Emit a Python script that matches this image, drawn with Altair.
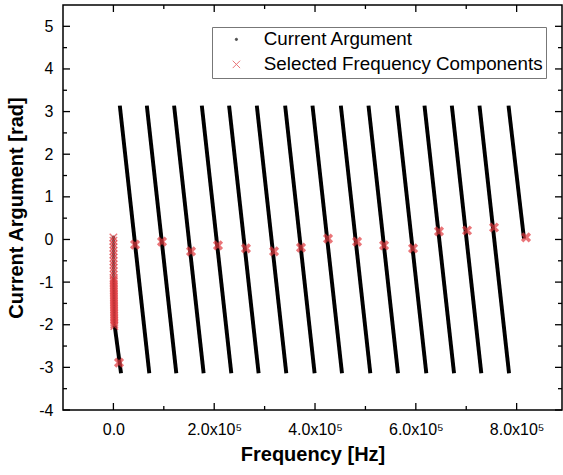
import altair as alt
import pandas as pd

# ---- data ----
series_names = ["Current Argument", "Selected Frequency Components"]

# wrapped phase line segments (Hz, rad)
seg_start_hz = [2500, 12700, 66300, 120400, 175400, 229500, 284500, 340700, 395000,
                451200, 506100, 562300, 617200, 671400, 726300, 783900]
seg_start_rad = [-2.02, 3.14, 3.14, 3.14, 3.14, 3.14, 3.14, 3.14, 3.14,
                 3.14, 3.14, 3.14, 3.14, 3.14, 3.14, 3.14]
seg_end_hz = [15100, 71200, 124800, 179000, 233900, 288100, 343000, 399200, 453500,
              509700, 564600, 620800, 675800, 729900, 784900, 814600]
seg_end_rad = [-3.14, -3.14, -3.14, -3.14, -3.14, -3.14, -3.14, -3.14, -3.14,
               -3.14, -3.14, -3.14, -3.14, -3.14, -3.14, 0.02]

# low-frequency cluster (both series)
cluster_hz = [0, 40, 90, 130, 180, 220, 270, 310, 360, 400, 450, 500, 540,
              590, 630, 680, 720, 770, 810, 860, 900, 950, 990, 1040, 1080, 1130,
              1170, 1220, 1260, 1310, 1350, 1400, 1440, 1490, 1530, 1580, 1620,
              1670, 1710, 1760, 1800]
cluster_rad = [0.05, -0.03, -0.11, -0.19, -0.27, -0.35, -0.43, -0.51, -0.59, -0.67,
               -0.75, -0.83, -0.91, -0.95, -0.99, -1.03, -1.07, -1.11, -1.15, -1.19,
               -1.23, -1.27, -1.31, -1.35, -1.39, -1.43, -1.47, -1.51, -1.55, -1.59,
               -1.63, -1.67, -1.71, -1.75, -1.79, -1.83, -1.87, -1.91, -1.95, -1.99, -2.03]

# selected frequency components on the lines
sel_hz = [11100, 42900, 96400, 154000, 207500, 263000, 318700, 372200, 425800,
          483400, 537000, 594500, 646000, 701600, 755100, 818600]
sel_rad = [-2.89, -0.12, -0.05, -0.28, -0.14, -0.21, -0.28, -0.19, 0.02,
           -0.05, -0.14, -0.21, 0.19, 0.21, 0.28, 0.05]

x_major = [0, 200000, 400000, 600000, 800000]
x_minor = [100000, 300000, 500000, 700000]
y_major = [-4, -3, -2, -1, 0, 1, 2, 3, 4, 5]
y_minor = [-3.5, -2.5, -1.5, -0.5, 0.5, 1.5, 2.5, 3.5, 4.5]

# ---- layout / style ----
W, H = 499, 405
RED = "#e23b40"
XPATH = "M-1,-1L1,1M-1,1L1,-1"
FONT = "Liberation Sans"

seg_df = pd.DataFrame({"x": seg_start_hz, "y": seg_start_rad,
                       "x2": seg_end_hz, "y2": seg_end_rad})
cl_df = pd.concat([
    pd.DataFrame({"hz": cluster_hz, "rad": cluster_rad, "series": series_names[0]}),
    pd.DataFrame({"hz": cluster_hz, "rad": cluster_rad, "series": series_names[1]}),
], ignore_index=True)
sel_df = pd.DataFrame({"hz": sel_hz, "rad": sel_rad})

x_scale = alt.Scale(domain=[-100000, 890000], nice=False, zero=False)
y_scale = alt.Scale(domain=[-4, 5.5], nice=False, zero=False)
axis_style = dict(ticks=False, domain=False, grid=False,
                  labelFont=FONT, labelFontSize=16, labelColor="black",
                  titleFont=FONT, titleFontSize=20, titleFontWeight="bold", titleColor="black")
x_axis = alt.Axis(values=x_major,
                  labelExpr="datum.value == 0 ? '0.0' : format(datum.value / 100000, '.1f') + 'x10⁵'",
                  labelPadding=11, titlePadding=7, labelFlush=False, **axis_style)
y_axis = alt.Axis(values=y_major, labelExpr="'' + datum.value",
                  labelPadding=10, titlePadding=12, **axis_style)
XT = "Frequency [Hz]"
YT = "Current Argument [rad]"


def X(field, typ="quantitative"):
    return alt.X(field, type=typ, scale=x_scale, axis=x_axis, title=XT)


def Y(field, typ="quantitative"):
    return alt.Y(field, type=typ, scale=y_scale, axis=y_axis, title=YT)


lines = alt.Chart(seg_df).mark_rule(color="black", strokeWidth=3.9).encode(
    x=X("x"), y=Y("y"), x2="x2", y2="y2")

leg = alt.Legend(title=None, orient="none", legendX=149, legendY=22,
                 labelFont=FONT, labelFontSize=18.8, labelColor="black", labelLimit=0,
                 strokeColor="#777777", fillColor="white", padding=3,
                 rowPadding=5, labelOffset=18, symbolOffset=12,
                 symbolStrokeWidth=1.0)

cluster = alt.Chart(cl_df).mark_point(filled=True, strokeWidth=1.4).encode(
    x=X("hz"), y=Y("rad"),
    color=alt.Color("series:N", scale=alt.Scale(domain=series_names, range=["black", RED]), legend=leg),
    stroke=alt.Stroke("series:N", scale=alt.Scale(domain=series_names, range=["black", RED]), legend=leg),
    shape=alt.Shape("series:N", scale=alt.Scale(domain=series_names, range=["circle", XPATH]), legend=leg),
    size=alt.Size("series:N", scale=alt.Scale(domain=series_names, range=[5, 55]), legend=leg),
)

markers = alt.Chart(sel_df).mark_point(shape=XPATH, filled=False, color=RED,
                                       strokeWidth=3.4, size=60).encode(
    x=X("hz"), y=Y("rad"))


def tick_df(vals):
    return pd.DataFrame({"v": vals})


MAJ, MIN = 7, 4
tick_layers = []
for vals, ln in ((x_major, MAJ), (x_minor, MIN)):
    tick_layers.append(alt.Chart(tick_df(vals)).mark_rule(color="black", strokeWidth=1.3).encode(
        x=X("v"), y=alt.value(H), y2=alt.value(H - ln)))
    tick_layers.append(alt.Chart(tick_df(vals)).mark_rule(color="black", strokeWidth=1.3).encode(
        x=X("v"), y=alt.value(0), y2=alt.value(ln)))
for vals, ln in ((y_major, MAJ), (y_minor, MIN)):
    tick_layers.append(alt.Chart(tick_df(vals)).mark_rule(color="black", strokeWidth=1.3).encode(
        y=Y("v"), x=alt.value(0), x2=alt.value(ln)))
    tick_layers.append(alt.Chart(tick_df(vals)).mark_rule(color="black", strokeWidth=1.3).encode(
        y=Y("v"), x=alt.value(W), x2=alt.value(W - ln)))

chart = alt.layer(lines, cluster, markers, *tick_layers).properties(
    width=W, height=H,
    background="white",
    title=alt.TitleParams(
        text="Figure 9. Frequency characteristics of the current argument",
        anchor="start", frame="group", dx=-81, offset=4, baseline="alphabetic",
        font=FONT, fontSize=20, fontWeight="bold", fontStyle="italic", color="black"),
    autosize=alt.AutoSizeParams(type="none"),
    padding={"left": 63, "top": 5, "right": 1, "bottom": 65},
).configure_view(stroke="black", strokeWidth=1.5)

chart.save("out.html", embed_options={"renderer": "svg", "actions": False})
